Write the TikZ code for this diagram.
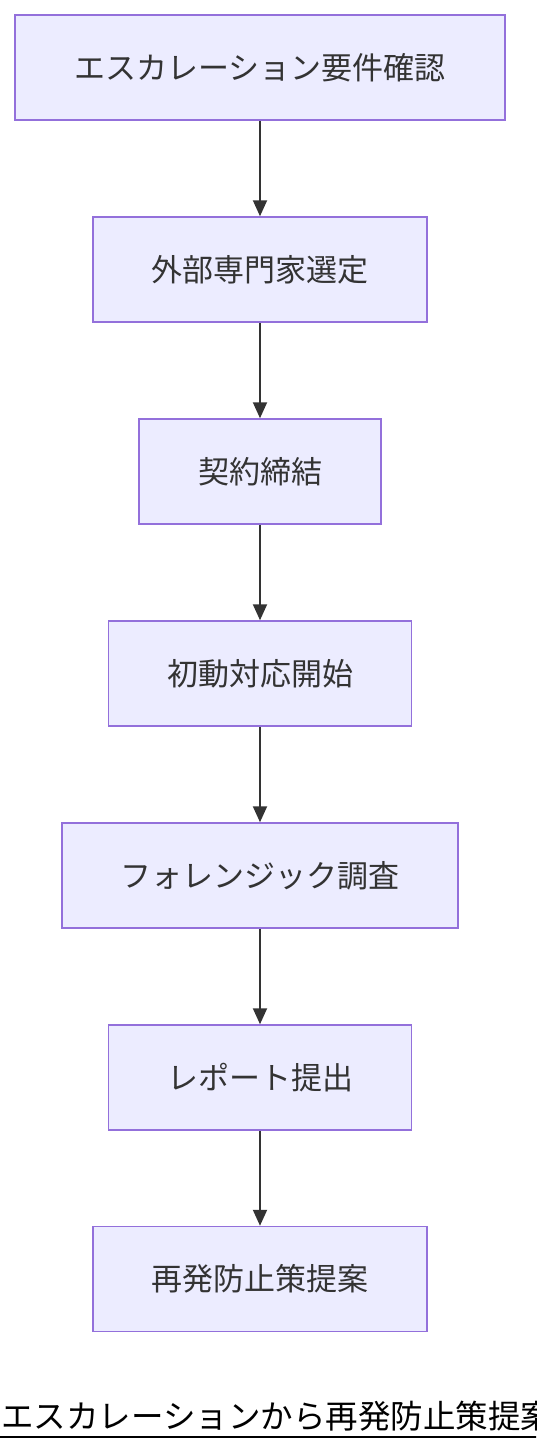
\documentclass[tikz,border=0pt]{standalone}
\usepackage{fontspec}
\setmainfont{Noto Sans CJK JP}
\usetikzlibrary{arrows.meta}
\definecolor{boxfill}{HTML}{ECECFF}
\definecolor{boxline}{HTML}{9370DB}
\definecolor{ink}{HTML}{333333}
\tikzset{
  stepbox/.style={draw=boxline, fill=boxfill, line width=1.5pt, minimum height=105pt, inner sep=0pt, text=ink, font=\fontsize{31}{34}\selectfont},
  flow/.style={draw=ink, line width=2pt, -{Triangle[length=16pt,width=14pt]}}
}
\begin{document}
\begin{tikzpicture}[x=1pt,y=-1pt]
\clip (0,0) rectangle (536,1452);
\useasboundingbox (0,0) rectangle (536,1452);
\node[stepbox, minimum width=490pt] (n1) at (260,67.5) {エスカレーション要件確認};
\node[stepbox, minimum width=334pt] (n2) at (260,269.5) {外部専門家選定};
\node[stepbox, minimum width=242pt] (n3) at (260,471.5) {契約締結};
\node[stepbox, minimum width=303pt] (n4) at (260,673.5) {初動対応開始};
\node[stepbox, minimum width=396pt] (n5) at (260,875.5) {フォレンジック調査};
\node[stepbox, minimum width=303pt] (n6) at (260,1077.5) {レポート提出};
\node[stepbox, minimum width=334pt] (n7) at (260,1279) {再発防止策提案};
\draw[flow] (n1) -- (n2);
\draw[flow] (n2) -- (n3);
\draw[flow] (n3) -- (n4);
\draw[flow] (n4) -- (n5);
\draw[flow] (n5) -- (n6);
\draw[flow] (n6) -- (n7);
\node[anchor=base west, inner sep=0pt, text=black, font=\fontsize{32.5}{36}\selectfont] (title) at (1,1428) {エスカレーションから再発防止策提案};
\draw[black, line width=2pt] (title.base west) ++(-1,9) coordinate (u1) -- ++(580,0) coordinate (u2);
\end{tikzpicture}
\end{document}
